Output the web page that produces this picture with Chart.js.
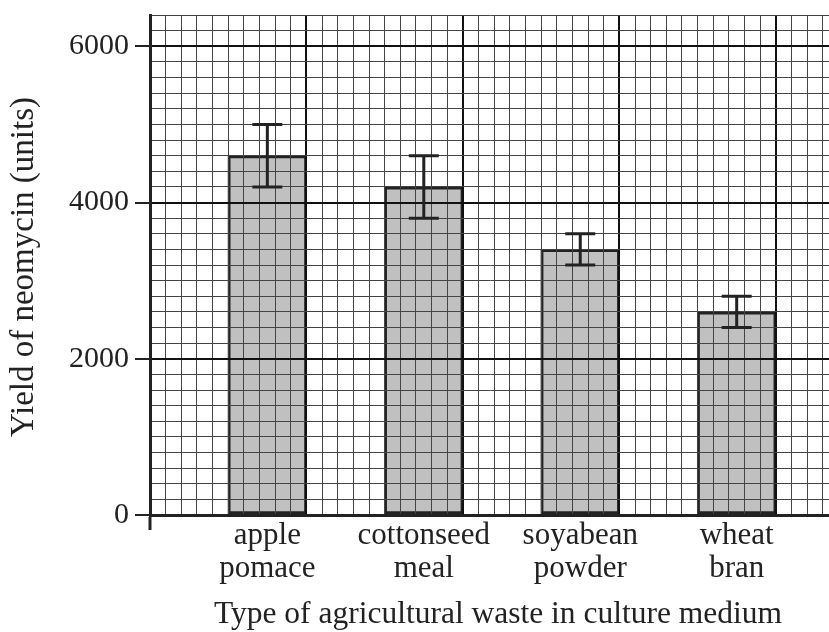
<!DOCTYPE html>
<html><head><meta charset="utf-8">
<script src="https://cdn.jsdelivr.net/npm/chart.js@4/dist/chart.umd.min.js"></script>
<style>html,body{margin:0;padding:0;background:#fff;} canvas{display:block;}</style>
</head><body>
<canvas id="c" width="829" height="632"></canvas>
<script>
// ---- data ----
const categories = [['apple','pomace'],['cottonseed','meal'],['soyabean','powder'],['wheat','bran']];
const yields = [4600, 4200, 3400, 2600];
const errorLow = [4200, 3800, 3200, 2400];
const errorHigh = [5000, 4600, 3600, 2800];
const yTickLabels = [0, 2000, 4000, 6000];
const xAxisTitle = 'Type of agricultural waste in culture medium';
const yAxisTitle = 'Yield of neomycin (units)';

// ---- graph-paper layout (x axis measured in grid cells) ----
const yMax = 6400, yCell = 200, yMajor = 2000;
const xMaxCells = 43.4, cellsPerCategory = 10, firstCenter = 7.5, xMajor = 10;
const catCenters = categories.map((c, i) => firstCenter + i * cellsPerCategory);

const ink = '#222';
const serif = '"Liberation Serif", "Times New Roman", serif';
const clear = 'rgba(0,0,0,0)';

const errorBars = {
  id: 'errorBars',
  afterDraw(chart) {
    const {ctx, scales: {x, y}} = chart;
    ctx.save();
    ctx.strokeStyle = ink;
    ctx.lineWidth = 3;
    categories.forEach((c, i) => {
      const px = x.getPixelForValue(catCenters[i]);
      const lo = y.getPixelForValue(errorLow[i]);
      const hi = y.getPixelForValue(errorHigh[i]);
      ctx.beginPath();
      ctx.moveTo(px, lo); ctx.lineTo(px, hi);
      ctx.moveTo(px - 15, lo); ctx.lineTo(px + 15, lo);
      ctx.moveTo(px - 15, hi); ctx.lineTo(px + 15, hi);
      ctx.stroke();
    });
    ctx.restore();
  }
};

const titles = {
  id: 'titles',
  afterDraw(chart) {
    const ctx = chart.ctx;
    ctx.save();
    ctx.fillStyle = ink;
    ctx.textAlign = 'center';
    ctx.textBaseline = 'alphabetic';
    ctx.font = '31.5px ' + serif;
    ctx.fillText(xAxisTitle, 498, 623);
    ctx.translate(33, 267);
    ctx.rotate(-Math.PI / 2);
    ctx.font = '33px ' + serif;
    ctx.fillText(yAxisTitle, 0, 0);
    ctx.restore();
  }
};

const tv = c => (c && c.tick) ? c.tick.value : NaN;
const isMajorX = v => Number.isInteger(v) && v % xMajor === 0;
const isMajorY = v => Number.isInteger(v) && v % yMajor === 0;

new Chart(document.getElementById('c'), {
  type: 'bar',
  data: {
    datasets: [{
      data: catCenters.map((cx, i) => ({x: cx, y: yields[i]})),
      backgroundColor: '#c0c0c0',
      borderColor: ink,
      borderWidth: 3,
      borderSkipped: false,
      barThickness: 79
    }]
  },
  options: {
    responsive: false,
    animation: false,
    events: [],
    layout: {padding: {top: 15, right: 0, bottom: 0, left: 0}},
    plugins: {legend: {display: false}, tooltip: {enabled: false}},
    scales: {
      x: {
        type: 'linear',
        min: 0, max: xMaxCells,
        bounds: 'data',
        offset: false,
        z: 1,
        border: {display: true, color: ink, width: 3, z: 2},
        grid: {
          offset: false,
          z: 1,
          color: c => { const v = tv(c); return Number.isInteger(v) ? (isMajorX(v) ? '#111' : '#444') : clear; },
          lineWidth: c => isMajorX(tv(c)) ? 2 : 1,
          tickColor: c => tv(c) === 0 ? ink : clear,
          tickLength: 15,
          tickWidth: 3
        },
        ticks: {
          stepSize: 0.5,
          autoSkip: false,
          maxRotation: 0, minRotation: 0,
          padding: -11,
          color: ink,
          font: {family: serif, size: 31, lineHeight: 33 / 31},
          callback: v => { const i = catCenters.indexOf(v); return i >= 0 ? categories[i] : ''; }
        },
        afterFit: s => { s.height = 117; s.paddingLeft = 0; s.paddingRight = 0; s.paddingTop = 0; s.paddingBottom = 0; }
      },
      y: {
        type: 'linear',
        min: 0, max: yMax,
        z: 1,
        border: {display: true, color: ink, width: 3, z: 2},
        grid: {
          z: 1,
          color: c => isMajorY(tv(c)) ? '#111' : '#444',
          lineWidth: c => isMajorY(tv(c)) ? 2 : 1,
          tickColor: c => yTickLabels.includes(tv(c)) ? ink : clear,
          tickLength: 15,
          tickWidth: 2
        },
        ticks: {
          stepSize: yCell,
          autoSkip: false,
          padding: 6,
          color: ink,
          font: {family: serif, size: 30},
          callback: v => yTickLabels.includes(v) ? String(v) : ''
        },
        afterFit: s => { s.width = 150; s.paddingLeft = 0; s.paddingRight = 0; s.paddingTop = 0; s.paddingBottom = 0; }
      }
    }
  },
  plugins: [errorBars, titles]
});
</script>
</body></html>
